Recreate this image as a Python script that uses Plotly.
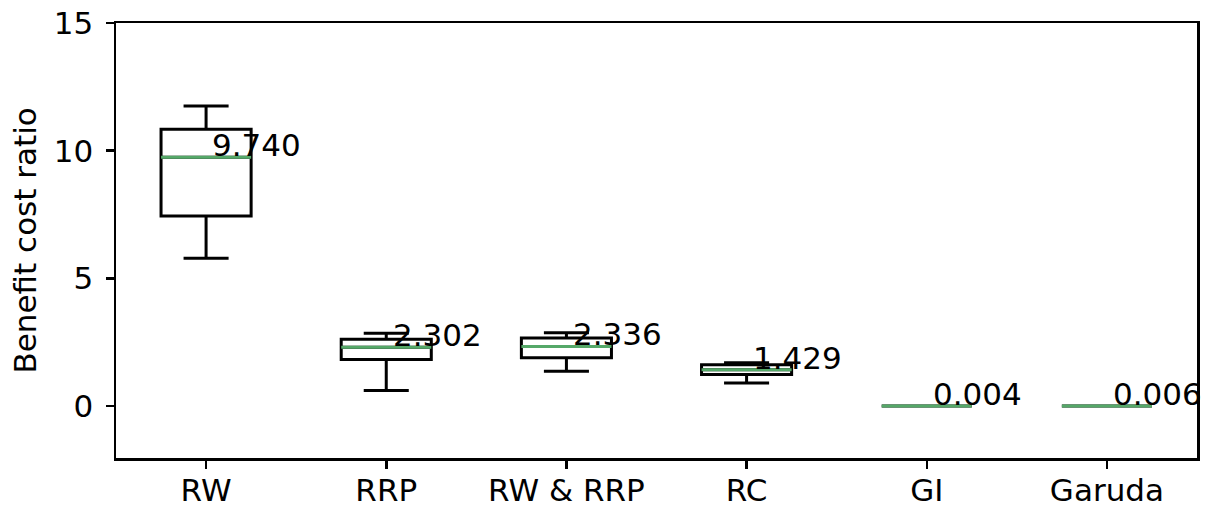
import plotly.graph_objects as go

categories = ["RW", "RRP", "RW & RRP", "RC", "GI", "Garuda"]
lower_whisker = [5.79, 0.61, 1.37, 0.91, 0.004, 0.006]
q1 = [7.44, 1.83, 1.89, 1.24, 0.004, 0.006]
median = [9.740, 2.302, 2.336, 1.429, 0.004, 0.006]
q3 = [10.84, 2.62, 2.67, 1.62, 0.004, 0.006]
upper_whisker = [11.75, 2.85, 2.87, 1.70, 0.004, 0.006]
median_labels = ["9.740", "2.302", "2.336", "1.429", "0.004", "0.006"]
y_ticks = [0, 5, 10, 15]
y_title = "Benefit cost ratio"

FONT = "DejaVu Sans"
FS = 31
GREEN = "#55a868"
BOX_W = 0.5
LW = 3

positions = list(range(1, len(categories) + 1))

fig = go.Figure()
for i, pos in enumerate(positions):
    fig.add_trace(go.Box(
        x=[pos],
        q1=[q1[i]], median=[median[i]], q3=[q3[i]],
        lowerfence=[lower_whisker[i]], upperfence=[upper_whisker[i]],
        width=BOX_W,
        whiskerwidth=0.5,
        line=dict(color="black", width=LW),
        fillcolor="rgba(255,255,255,0)",
        boxpoints=False,
        showlegend=False,
        hoverinfo="skip",
    ))

for i, pos in enumerate(positions):
    fig.add_trace(go.Scatter(
        x=[pos - BOX_W / 2, pos + BOX_W / 2],
        y=[median[i], median[i]],
        mode="lines",
        line=dict(color=GREEN, width=LW),
        showlegend=False,
        hoverinfo="skip",
    ))
    fig.add_annotation(
        x=pos + 0.03, y=median[i], text=median_labels[i],
        xanchor="left", yanchor="bottom", yshift=-7,
        showarrow=False, borderpad=0,
        font=dict(family=FONT, size=FS, color="black"),
    )

fig.add_annotation(
    x=0, xref="paper", y=0.5, yref="paper",
    xshift=-92, xanchor="center", yanchor="middle",
    text=y_title, textangle=-90, showarrow=False,
    font=dict(family=FONT, size=FS, color="black"),
)

fig.update_layout(
    width=1206, height=507,
    margin=dict(l=116, r=9, t=23, b=49, autoexpand=False),
    paper_bgcolor="white", plot_bgcolor="white",
    font=dict(family=FONT, size=FS, color="black"),
    boxgap=0, boxgroupgap=0,
)
fig.update_xaxes(
    range=[0.5, 6.5],
    tickmode="array", tickvals=positions, ticktext=categories,
    showgrid=False, zeroline=False,
    showline=True, linecolor="black", linewidth=2.5, mirror=True,
    ticks="outside", ticklen=8, tickwidth=2.5, tickcolor="black",
    tickfont=dict(family=FONT, size=FS),
    ticklabelstandoff=-5, ticklabeloverflow="allow",
    automargin=False,
)
fig.update_yaxes(
    range=[-2.03, 15],
    tickmode="array", tickvals=y_ticks,
    showgrid=False, zeroline=False,
    showline=True, linecolor="black", linewidth=2.5, mirror=True,
    ticks="outside", ticklen=8, tickwidth=2.5, tickcolor="black",
    tickfont=dict(family=FONT, size=FS),
    ticklabelstandoff=6, ticklabeloverflow="allow",
    automargin=False,
)

# remove the browser's default 8px body margin so the figure fills the window
fig.write_html(
    "out.html",
    config={"displayModeBar": False, "staticPlot": True},
    post_script="document.body.style.margin='0';document.body.style.overflow='hidden';",
)
